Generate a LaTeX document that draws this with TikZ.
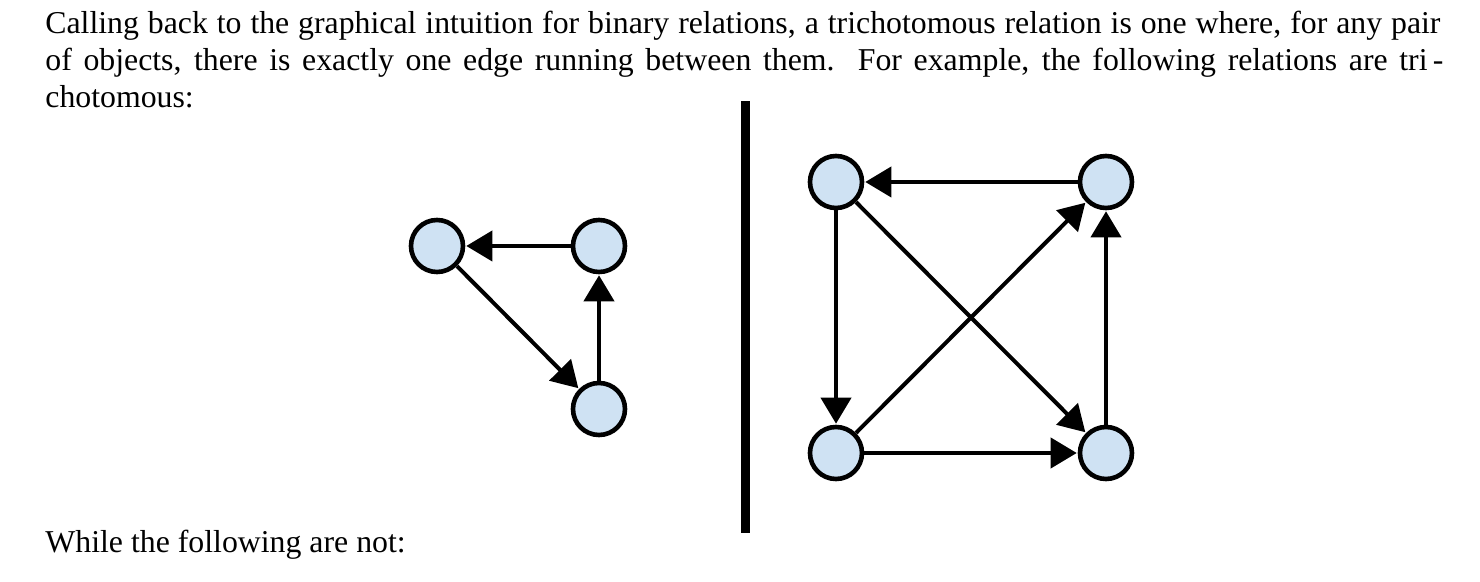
\documentclass[tikz,border=0pt]{standalone}
\usepackage{fontspec}
\setmainfont{Liberation Serif}
\usetikzlibrary{arrows.meta}
\definecolor{nodefill}{HTML}{CFE2F3}
\tikzset{
  vtx/.style={circle, draw=black, line width=2.3pt, fill=nodefill, minimum size=26pt, inner sep=0pt},
  edge/.style={line width=2pt, -{Triangle[length=13pt,width=15pt]}, shorten >=0.5pt},
  txt/.style={anchor=base west, inner sep=0pt, font=\fontsize{15.9}{18.5}\selectfont}
}
\begin{document}
\begin{tikzpicture}[x=0.5pt,y=-0.5pt]
\useasboundingbox (0,0) rectangle (1480,582);
% text
\node[txt] (l1) at (45,34) {\makebox[697.5pt][s]{Calling back to the graphical intuition for binary relations, a trichotomous relation is one where, for any pair}};
\node[txt] (l2) at (45,71) {\makebox[699pt][s]{of objects, there is exactly one edge running between them.\ \ For example, the following relations are tri\,-}};
\node[txt] (l3) at (45,108) {chotomous:};
\node[txt] (l4) at (45,553) {While the following are not:};
% separator
\fill (741,101) rectangle (749.5,533);
% triangle
\node[vtx] (a) at (437,246) {};
\node[vtx] (b) at (599,246) {};
\node[vtx] (c) at (599,409) {};
\draw[edge] (b) -- (a);
\draw[edge] (a) -- (c);
\draw[edge] (c) -- (b);
% square
\node[vtx] (p) at (836,182) {};
\node[vtx] (q) at (1106,182) {};
\node[vtx] (r) at (836,453) {};
\node[vtx] (s) at (1106,453) {};
\draw[edge] (q) -- (p);
\draw[edge] (p) -- (r);
\draw[edge] (r) -- (s);
\draw[edge] (s) -- (q);
\draw[edge] (p) -- (s);
\draw[edge] (r) -- (q);
\end{tikzpicture}
\end{document}
